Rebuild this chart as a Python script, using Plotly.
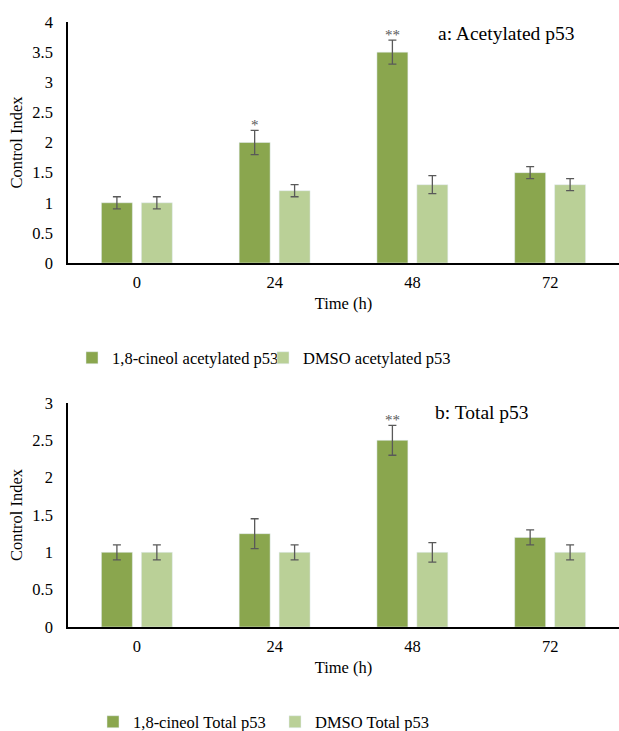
import plotly.graph_objects as go

times = ["0", "24", "48", "72"]

# Panel a: acetylated p53
acet_cineol = [1.0, 2.0, 3.5, 1.5]
acet_cineol_err = [0.1, 0.2, 0.2, 0.1]
acet_dmso = [1.0, 1.2, 1.3, 1.3]
acet_dmso_err = [0.1, 0.1, 0.15, 0.1]
acet_stars = ["", "*", "**", ""]

# Panel b: total p53
tot_cineol = [1.0, 1.25, 2.5, 1.2]
tot_cineol_err = [0.1, 0.2, 0.2, 0.1]
tot_dmso = [1.0, 1.0, 1.0, 1.0]
tot_dmso_err = [0.1, 0.1, 0.13, 0.1]
tot_stars = ["", "", "**", ""]

yticks_a = [0, 0.5, 1, 1.5, 2, 2.5, 3, 3.5, 4]
yticks_b = [0, 0.5, 1, 1.5, 2, 2.5, 3]

DARK = "#8aa64e"
LIGHT = "#bad097"
ERR = "#595959"
FONT = "Liberation Serif"
W, H = 619, 731

fig = go.Figure()


def add_bars(vals, errs, name, color, xa, ya, legend):
    fig.add_trace(go.Bar(
        x=times, y=vals, name=name, marker=dict(color=color),
        error_y=dict(type="data", array=errs, color=ERR, thickness=1.3, width=4),
        xaxis=xa, yaxis=ya, legend=legend,
    ))


add_bars(acet_cineol, acet_cineol_err, "1,8-cineol acetylated p53", DARK, "x", "y", "legend")
add_bars(acet_dmso, acet_dmso_err, "DMSO acetylated p53", LIGHT, "x", "y", "legend")
add_bars(tot_cineol, tot_cineol_err, "1,8-cineol Total p53", DARK, "x2", "y2", "legend2")
add_bars(tot_dmso, tot_dmso_err, "DMSO Total p53", LIGHT, "x2", "y2", "legend2")

annotations = []
for stars, vals, errs, xr, yr in [(acet_stars, acet_cineol, acet_cineol_err, "x", "y"),
                                  (tot_stars, tot_cineol, tot_cineol_err, "x2", "y2")]:
    for i, (s, v, e) in enumerate(zip(stars, vals, errs)):
        if s:
            annotations.append(dict(
                x=i, y=v + e, xref=xr, yref=yr, text=s, showarrow=False,
                xshift=-20, xanchor="center", yanchor="bottom", yshift=-5,
                font=dict(family=FONT, size=15, color=ERR)))

annotations.append(dict(x=506 / W, y=1 - 34 / H, xref="paper", yref="paper",
                        xanchor="center", yanchor="middle",
                        text="a: Acetylated p53", showarrow=False,
                        font=dict(family=FONT, size=19.5, color="black")))
annotations.append(dict(x=482 / W, y=1 - 412 / H, xref="paper", yref="paper",
                        xanchor="center", yanchor="middle",
                        text="b: Total p53", showarrow=False,
                        font=dict(family=FONT, size=19.5, color="black")))

tickfont = dict(family=FONT, size=16.5, color="black")
xdom = [68 / W, 1.0]


def xaxis(anchor):
    return dict(domain=xdom, anchor=anchor, type="category", categoryorder="array",
                categoryarray=times, range=[-0.5, len(times) - 0.5],
                showline=True, linecolor="black", linewidth=1.5,
                ticks="", showgrid=False, zeroline=False, tickfont=tickfont,
                ticklabelstandoff=3, automargin=False,
                title=dict(text="Time (h)", font=tickfont, standoff=7))


def yaxis(anchor, dom, rng, ticks):
    return dict(domain=dom, anchor=anchor, range=rng, tickvals=ticks,
                ticktext=[f"{t:g}" for t in ticks], showline=True, linecolor="black",
                linewidth=1.5, ticks="", showgrid=False, zeroline=False,
                tickfont=tickfont, ticklabelstandoff=10, automargin=False,
                title=dict(text="Control Index", font=tickfont, standoff=6))


legfont = dict(family=FONT, size=16.5, color="black")

fig.update_layout(
    width=W, height=H,
    margin=dict(l=0, r=0, t=0, b=0, autoexpand=False),
    paper_bgcolor="white", plot_bgcolor="white",
    barmode="group", bargap=0.42, bargroupgap=0.225,
    xaxis=xaxis("y"),
    yaxis=yaxis("x", [1 - 263 / H, 1 - 22 / H], [0, 4], yticks_a),
    xaxis2=xaxis("y2"),
    yaxis2=yaxis("x2", [1 - 627 / H, 1 - 403 / H], [0, 3], yticks_b),
    legend=dict(orientation="h", x=(112 - 40) / W, xanchor="left",
                y=1 - 358 / H, yanchor="middle", font=legfont,
                entrywidth=146, entrywidthmode="pixels", bgcolor="rgba(0,0,0,0)"),
    legend2=dict(orientation="h", x=(133 - 40) / W, xanchor="left",
                 y=1 - 722 / H, yanchor="middle", font=legfont,
                 entrywidth=137, entrywidthmode="pixels", bgcolor="rgba(0,0,0,0)"),
    annotations=annotations,
    showlegend=True,
)

fig.write_html("out.html",
               config={"displayModeBar": False},
               post_script="document.body.style.margin='0';document.body.style.overflow='hidden';")
